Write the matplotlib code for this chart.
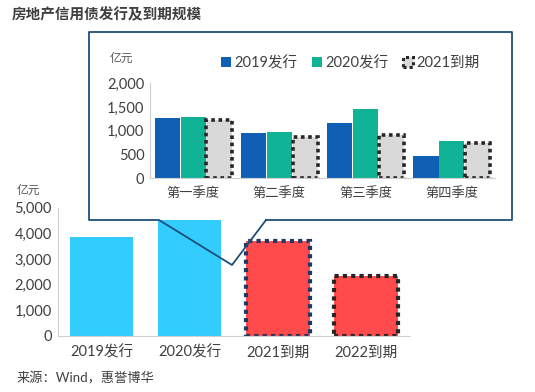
import matplotlib
matplotlib.use("Agg")
import matplotlib.pyplot as plt
from matplotlib.patches import Rectangle, Patch
from matplotlib.lines import Line2D
from matplotlib.ticker import FuncFormatter

plt.rcParams['font.family'] = ['Lato', 'Noto Sans CJK SC', 'DejaVu Sans']

# 主图数据
main_cats = ['2019发行', '2020发行', '2021到期', '2022到期']
main_vals = [3850, 4550, 3700, 2330]

# 季度数据
quarters = ['第一季度', '第二季度', '第三季度', '第四季度']
issue_2019 = [1260, 945, 1155, 470]
issue_2020 = [1280, 980, 1450, 780]
mature_2021 = [1225, 875, 905, 745]

W, H = 535, 392
fig = plt.figure(figsize=(W / 100, H / 100), dpi=100)

def fx(px):
    return px / W

def fy(py):
    return 1 - py / H

txt = '#404040'
thous = FuncFormatter(lambda v, p: f'{int(v):,}')

# 主图
ax = fig.add_axes([fx(57.5), fy(335.7), fx(410) - fx(57.5), fy(207.7) - fy(335.7)])
ax.set_zorder(0)
xs = range(len(main_cats))
ax.bar([0, 1], main_vals[:2], width=0.72, color='#33CCFF')
ax.bar(2, main_vals[2], width=0.72, color='#FF4B4B', edgecolor='#203864',
       linewidth=3.0, linestyle=(0, (1, 1)))
ax.bar(3, main_vals[3], width=0.72, color='#FF4B4B', edgecolor='#262626',
       linewidth=3.0, linestyle=(0, (1, 1)))
ax.set_xlim(-0.5, 3.5)
ax.set_ylim(0, 5000)
ax.set_yticks(range(0, 5001, 1000))
ax.yaxis.set_major_formatter(thous)
ax.set_xticks(list(xs))
ax.set_xticklabels(main_cats)
for s in ['top', 'right']:
    ax.spines[s].set_visible(False)
for s in ['left', 'bottom']:
    ax.spines[s].set_color('#D0D0D0')
ax.tick_params(length=0, labelsize=10.5, colors=txt, pad=4)
ax.tick_params(axis='x', pad=7)
fig.text(fx(17), fy(190), '亿元', fontsize=8.5, color='#595959', va='center')

# 标注框
box = Rectangle((fx(89), fy(220)), fx(512) - fx(89), fy(32) - fy(220),
                transform=fig.transFigure, facecolor='white', edgecolor='none', zorder=1)
fig.patches.append(box)
outline_x = [266, 512, 512, 89, 89, 159, 232, 266]
outline_y = [220, 220, 32, 32, 220, 220, 265, 220]
fig.lines.append(Line2D([fx(v) for v in outline_x], [fy(v) for v in outline_y],
                        transform=fig.transFigure, color='#1F4E79', linewidth=1.3, zorder=1.5))

# 嵌入图
ax2 = fig.add_axes([fx(150), fy(178), fx(495) - fx(150), fy(83.3) - fy(178)])
ax2.set_zorder(2)
ax2.patch.set_alpha(0)
bw = 0.29
qx = list(range(len(quarters)))
ax2.bar([q - 0.3 for q in qx], issue_2019, width=bw, color='#0F5FB5', label='2019发行')
ax2.bar(qx, issue_2020, width=bw, color='#10B395', label='2020发行')
ax2.bar([q + 0.3 for q in qx], mature_2021, width=bw, color='#D9D9D9',
        edgecolor='#262626', linewidth=2.6, linestyle=(0, (1, 1)), label='2021到期')
ax2.set_xlim(-0.5, 3.5)
ax2.set_ylim(0, 2000)
ax2.set_yticks(range(0, 2001, 500))
ax2.yaxis.set_major_formatter(thous)
ax2.set_xticks(qx)
ax2.set_xticklabels(quarters)
for s in ['top', 'right']:
    ax2.spines[s].set_visible(False)
for s in ['left', 'bottom']:
    ax2.spines[s].set_color('#D0D0D0')
ax2.tick_params(length=0, labelsize=10.5, colors=txt, pad=4)
ax2.tick_params(axis='x', labelsize=9.5, pad=6)
fig.text(fx(110), fy(58), '亿元', fontsize=8.5, color='#595959', va='center')

handles = [Patch(facecolor='#0F5FB5'), Patch(facecolor='#10B395'),
           Patch(facecolor='#D9D9D9', edgecolor='#262626', linewidth=2.2, linestyle=(0, (1, 1)))]
leg = fig.legend(handles, ['2019发行', '2020发行', '2021到期'], ncol=3, frameon=False,
                 loc='center left', bbox_to_anchor=(fx(208), fy(63)), fontsize=10.5,
                 handlelength=0.7, handleheight=0.7, handletextpad=0.2, columnspacing=1.0)
for t in leg.get_texts():
    t.set_color(txt)
leg.set_zorder(3)

fig.text(fx(12), fy(15), '房地产信用债发行及到期规模', fontsize=10.5, fontweight='bold',
         color='#404040', va='center')
fig.text(fx(17), fy(378), '来源：Wind，惠誉博华', fontsize=9.5, color='#404040', va='center')

fig.savefig('out.png', dpi=100)
